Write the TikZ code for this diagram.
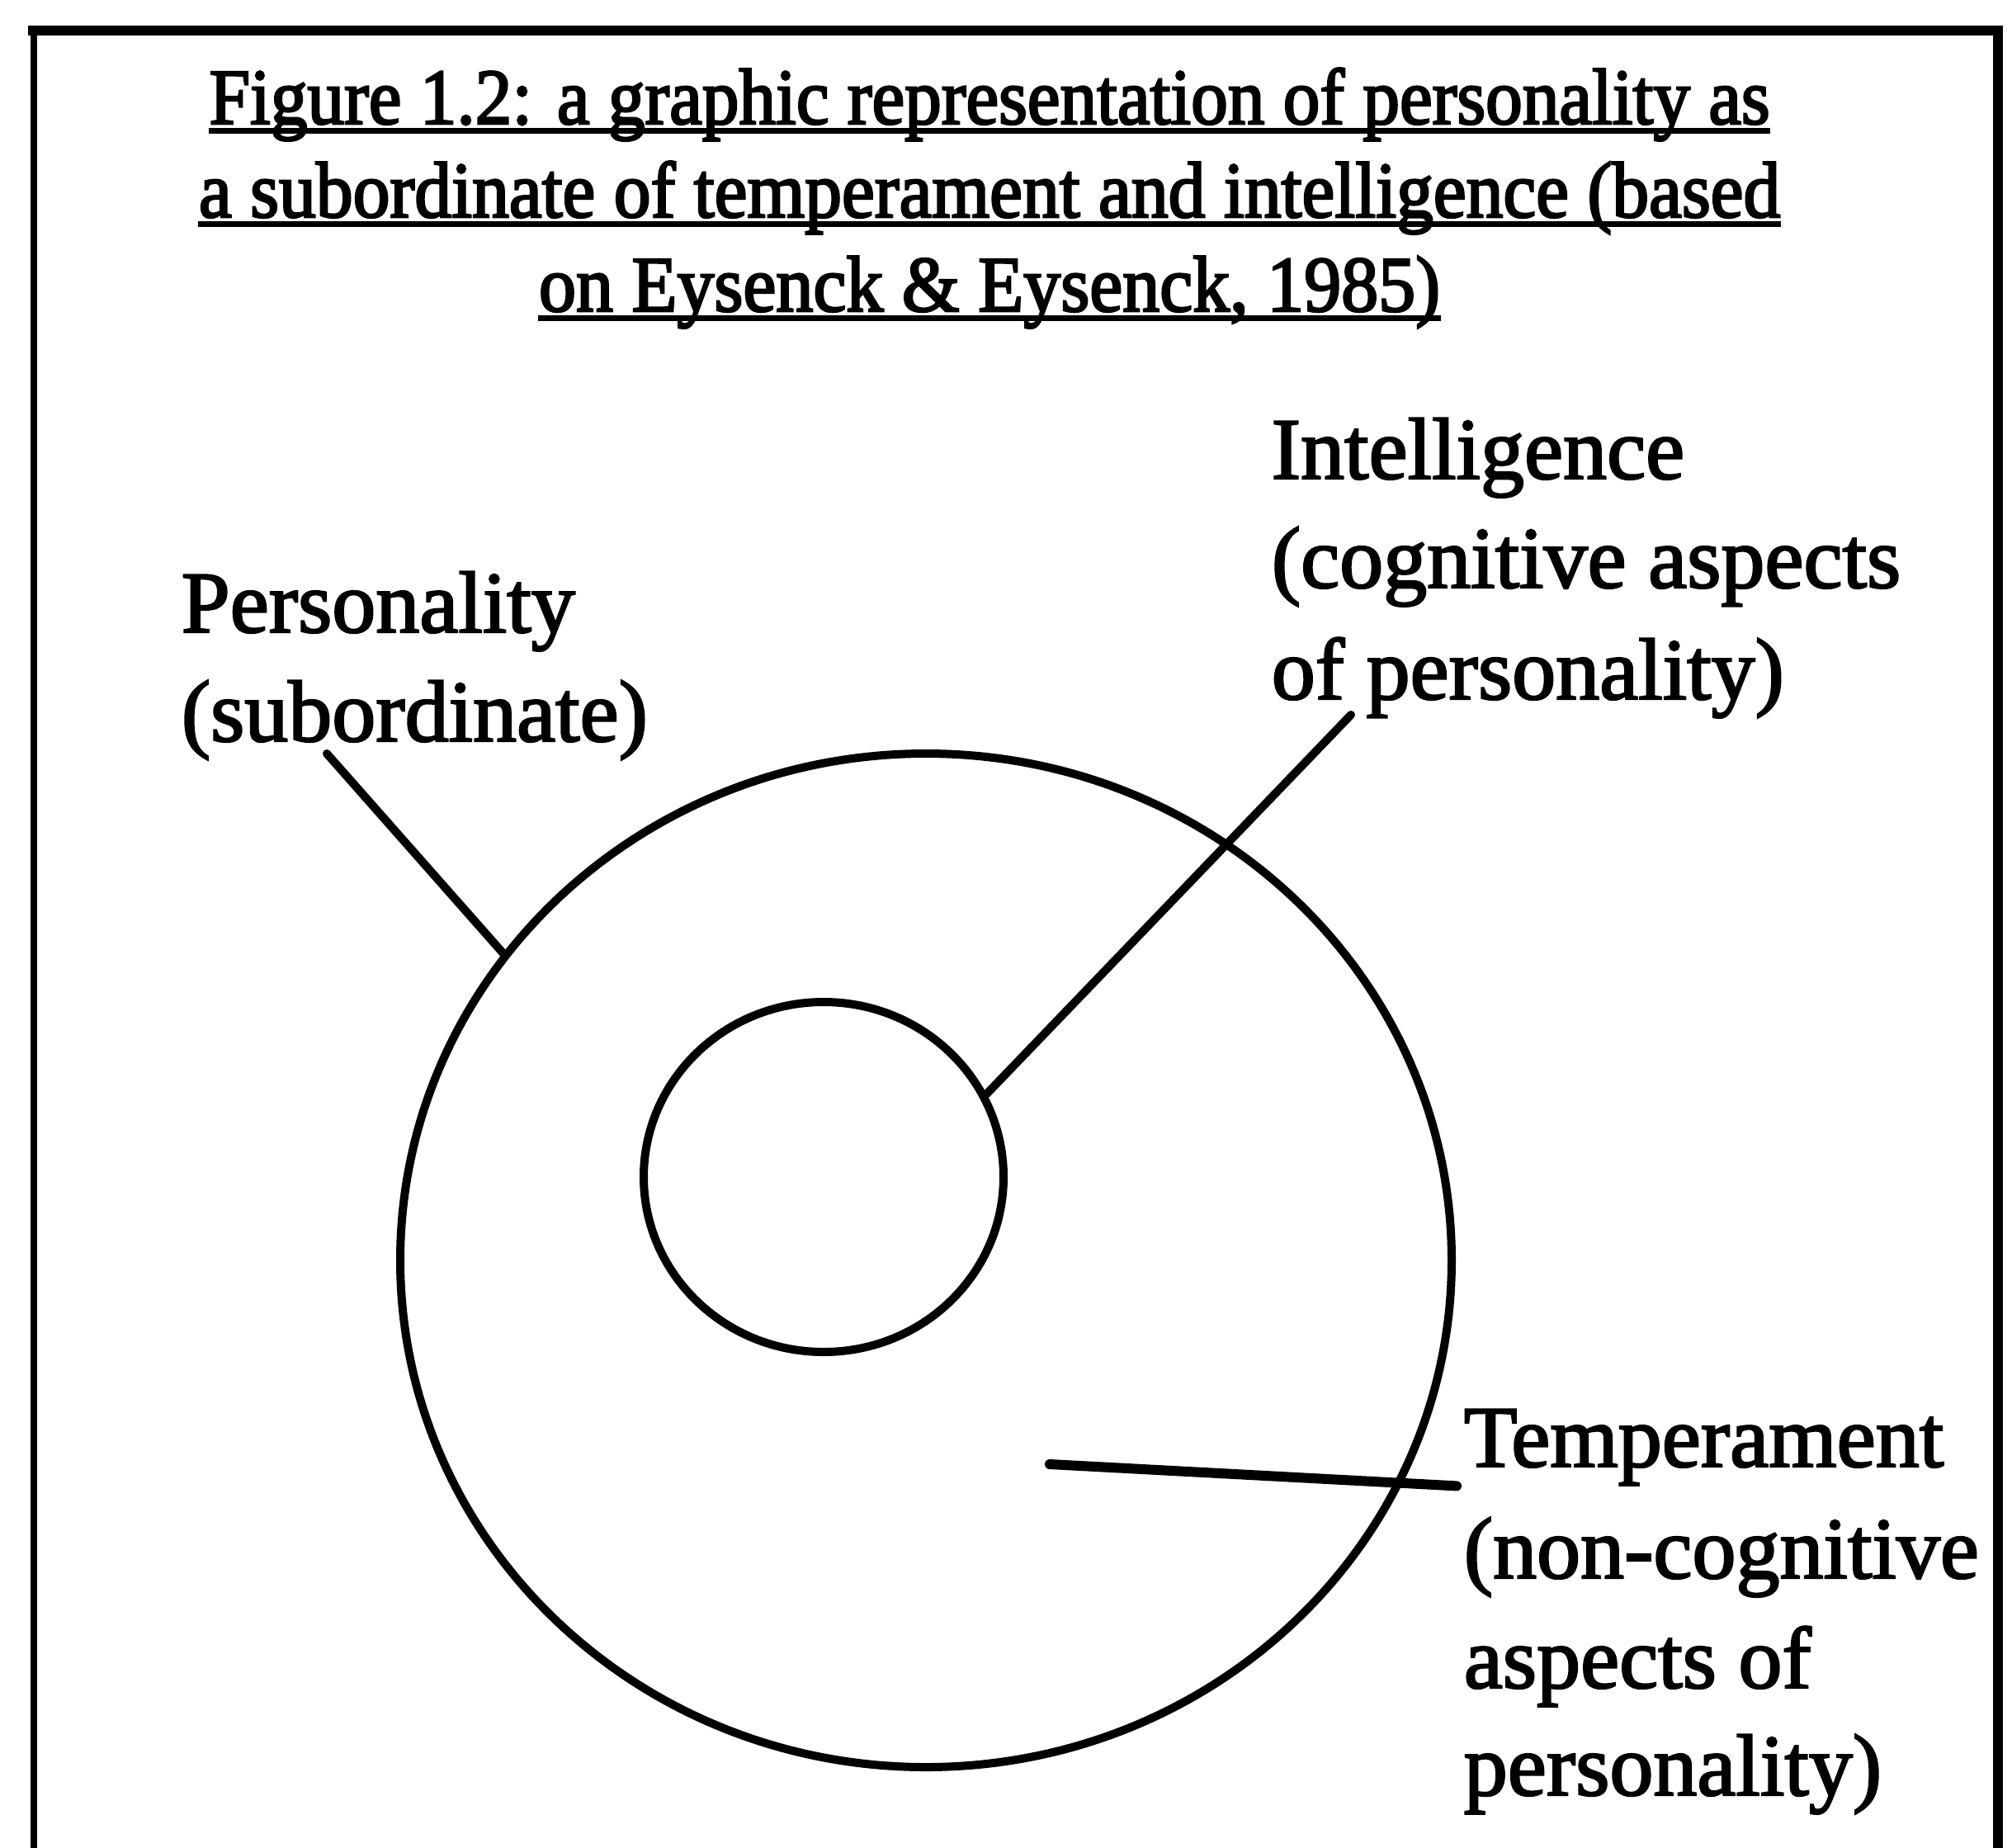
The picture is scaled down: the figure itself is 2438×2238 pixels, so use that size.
\documentclass[tikz,border=0pt]{standalone}
\usepackage{fontspec}
\usepackage{graphicx}
\usetikzlibrary{shapes.geometric}
\newfontfamily\labelfont{Liberation Serif}[FakeBold=2.2]
\newfontfamily\headfont{Liberation Serif}[FakeBold=2.8]

\tikzset{
  frameline/.style={line width=#1, line cap=rect},
  ringshape/.style={draw, ellipse, line width=2.5pt, inner sep=0pt},
  pointer/.style={line width=2.5pt, line cap=round},
  headline/.style={anchor=base, inner sep=0pt, font=\headfont\fontsize{24}{28}\selectfont},
  uline/.style={line width=1.8pt},
  labeltext/.style={anchor=base west, inner sep=0pt, font=\labelfont\fontsize{26.5}{33}\selectfont},
}

\begin{document}
\begin{tikzpicture}[x=0.25pt, y=-0.25pt]
  \useasboundingbox (0,0) rectangle (2438,2238);

  % open frame: top, left and right edges
  \draw[frameline=2.8pt] (40,37) -- (2421,37);
  \draw[frameline=1.8pt] (41,37) -- (41,2250);
  \draw[frameline=3pt] (2421,37) -- (2421,2250);

  % heading, three underlined lines
  \node[headline] (h1) at (1199,150)
    {\resizebox{472.75pt}{\height}{Figure 1.2: a graphic representation of personality as}};
  \node[headline] (h2) at (1199,263)
    {\resizebox{479pt}{\height}{a subordinate of temperament and intelligence (based}};
  \node[headline] (h3) at (1199,377)
    {\resizebox{273pt}{\height}{on Eysenck \& Eysenck, 1985)}};
  \foreach \h in {h1,h2,h3}
    \draw[uline] ([yshift=-2.2pt]\h.base west) -- ([yshift=-2.2pt]\h.base east);

  % the two circles
  \node[ringshape, minimum width=318.5pt, minimum height=307pt] (ring) at (1122,1527) {};
  \node[ringshape, minimum width=109pt, minimum height=106pt] (core) at (998,1426) {};

  % labels
  \node[labeltext] (pers1) at (219,766) {Personality};
  \node[labeltext] (pers2) at (219,898) {(subordinate)};

  \node[labeltext] (int1) at (1540,580) {Intelligence};
  \node[labeltext] (int2) at (1540,712) {(cognitive aspects};
  \node[labeltext] (int3) at (1540,847) {of personality)};

  \node[labeltext] (temp1) at (1773,1777) {Temperament};
  \node[labeltext] (temp2) at (1773,1912) {(non-cognitive};
  \node[labeltext] (temp3) at (1773,2045) {aspects of};
  \node[labeltext] (temp4) at (1773,2175) {personality)};

  % pointer lines
  \coordinate (persfoot) at (396,913);
  \coordinate (intfoot) at (1637,866);
  \coordinate (tempin) at (1272,1774);

  \draw[pointer] (persfoot) -- (ring.144);
  \draw[pointer] (intfoot) -- (core.27);
  \draw[pointer, line width=3pt] (tempin) -- ([xshift=-2pt]temp1.south west);
\end{tikzpicture}
\end{document}
